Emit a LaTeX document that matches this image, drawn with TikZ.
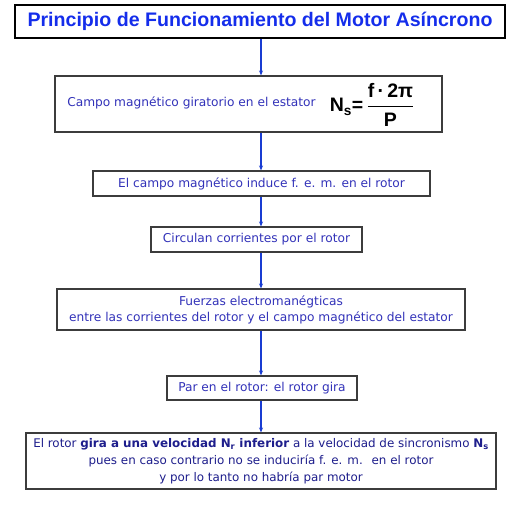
\documentclass[tikz,border=0pt]{standalone}
\usepackage{fontspec}
\usepackage{amsmath}
\usetikzlibrary{arrows.meta}
\setmainfont{DejaVu Sans}
\newfontfamily\arialf{Liberation Sans}
\definecolor{titleblue}{RGB}{20,45,235}
\definecolor{txtblue}{RGB}{50,50,185}
\definecolor{navytxt}{RGB}{30,30,140}
\definecolor{arrblue}{RGB}{25,60,210}
\definecolor{frame}{RGB}{60,60,60}
\begin{document}
\begin{tikzpicture}[x=1pt,y=-1pt,
  box/.style={draw=frame, line width=1.1pt, fill=white, inner sep=0pt, align=center, text=txtblue, font=\fontsize{12.2}{16}\selectfont},
  arr/.style={-{Stealth[length=5pt,width=4pt]}, draw=arrblue, line width=1.2pt}]
\useasboundingbox (0,0) rectangle (525,512);
\coordinate (ax) at (261,0);
\node[draw=black, line width=1.8pt, minimum width=490pt, minimum height=33pt, inner sep=0pt, text=titleblue, font=\arialf\bfseries\fontsize{19.6}{22}\selectfont] (t) at (260,21.5) {Principio de Funcionamiento del Motor Asíncrono};
\node[box, minimum width=387pt, minimum height=56pt] (b1) at (248.5,104) {};
\node[text=txtblue, font=\fontsize{12.2}{14}\selectfont, inner sep=0pt] (b1t) at (191.5,103) {Campo magnético giratorio en el estator};
\node[inner sep=0pt, font=\arialf\bfseries\fontsize{19.5}{22}\selectfont] (b1f) at (372,105) {N\textsubscript{s}=\,$\dfrac{\text{\arialf\bfseries f\,·\,2π}}{\text{\arialf\bfseries P}}$};
\node[box, minimum width=337pt, minimum height=25pt] (b2) at (261.5,183.5) {El campo magnético induce f. e. m. en el rotor};
\node[box, minimum width=211pt, minimum height=25pt] (b3) at (256.5,239.5) {Circulan corrientes por el rotor};
\node[box, minimum width=408pt, minimum height=41pt] (b4) at (261,309.5) {Fuerzas electromanégticas\\ entre las corrientes del rotor y el campo magnético del estator};
\node[box, minimum width=190pt, minimum height=24pt] (b5) at (262,388) {Par en el rotor: el rotor gira};
\node[box, minimum width=470pt, minimum height=56pt, text=navytxt, font=\fontsize{11.9}{17}\selectfont] (b6) at (261,461) {El rotor \textbf{gira a una velocidad N\textsubscript{r} inferior} a la velocidad de sincronismo \textbf{N\textsubscript{s}}\\ pues en caso contrario no se induciría f. e. m. \ en el rotor\\ y por lo tanto no habría par motor};
\draw[arr] (t.south -| ax) -- (b1.north -| ax);
\draw[arr] (b1.south -| ax) -- (b2.north -| ax);
\draw[arr] (b2.south -| ax) -- (b3.north -| ax);
\draw[arr] (b3.south -| ax) -- (b4.north -| ax);
\draw[arr] (b4.south -| ax) -- (b5.north -| ax);
\draw[arr] (b5.south -| ax) -- (b6.north -| ax);
\end{tikzpicture}
\end{document}
